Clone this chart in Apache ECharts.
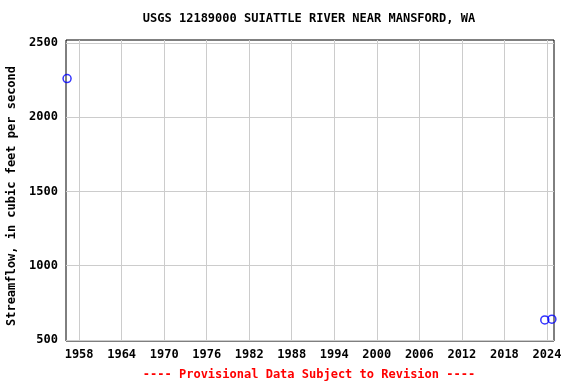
<!DOCTYPE html>
<html><head><meta charset="utf-8">
<script src="https://cdn.jsdelivr.net/npm/echarts@6/dist/echarts.min.js"></script>
<style>html,body{margin:0;padding:0;background:#fff}#c{width:576px;height:384px}</style>
</head><body><div id="c"></div>
<script>
const years = [1956.3, 2023.7, 2024.7];
const flows = [2260, 635, 640];
const xTicks = [1958, 1964, 1970, 1976, 1982, 1988, 1994, 2000, 2006, 2012, 2018, 2024];
const yTicks = [500, 1000, 1500, 2000, 2500];
const FONT = 'DejaVu Sans Mono';
const chart = echarts.init(document.getElementById('c'));
chart.setOption({
  animation: false,
  graphic: [{
    type: 'text', x: 309, y: 19,
    style: {text: 'USGS 12189000 SUIATTLE RIVER NEAR MANSFORD, WA', fill: '#000',
      align: 'center', verticalAlign: 'middle', font: 'bold 12px "DejaVu Sans Mono"'}
  }, {
    type: 'text', x: 309, y: 375,
    style: {text: '---- Provisional Data Subject to Revision ----', fill: '#f00',
      align: 'center', verticalAlign: 'middle', font: 'bold 12px "DejaVu Sans Mono"'}
  }, {
    type: 'text', x: 12, y: 196, rotation: Math.PI / 2,
    style: {text: 'Streamflow, in cubic feet per second', fill: '#000',
      align: 'center', verticalAlign: 'middle', font: 'bold 12px "DejaVu Sans Mono"'}
  }],
  grid: {left: 66, right: 22, top: 40, bottom: 43, outerBoundsMode: 'none', containLabel: false,
    show: true, borderColor: '#000', borderWidth: 1, backgroundColor: 'transparent'},
  xAxis: {
    type: 'value', min: 1956.15, max: 2025,
    axisLine: {show: false},
    axisTick: {show: false, customValues: xTicks},
    axisLabel: {customValues: xTicks, formatter: v => String(v), fontFamily: FONT, fontSize: 12, fontWeight: 'bold', color: '#000', margin: 8},
    splitLine: {show: true, lineStyle: {color: '#ccc', width: 1}}
  },
  yAxis: {
    type: 'value', min: 493, max: 2520,
    axisLine: {show: false},
    axisTick: {show: false, customValues: yTicks},
    axisLabel: {customValues: yTicks, formatter: v => String(v), fontFamily: FONT, fontSize: 12, fontWeight: 'bold', color: '#000', margin: 8},
    splitLine: {show: true, lineStyle: {color: '#ccc', width: 1}}
  },
  series: [{
    type: 'scatter',
    data: years.map((y, i) => [y, flows[i]]),
    symbol: 'circle', symbolSize: 8,
    itemStyle: {color: 'rgba(0,0,0,0)', borderColor: '#00f', borderWidth: 1.5}
  }]
});
</script></body></html>
